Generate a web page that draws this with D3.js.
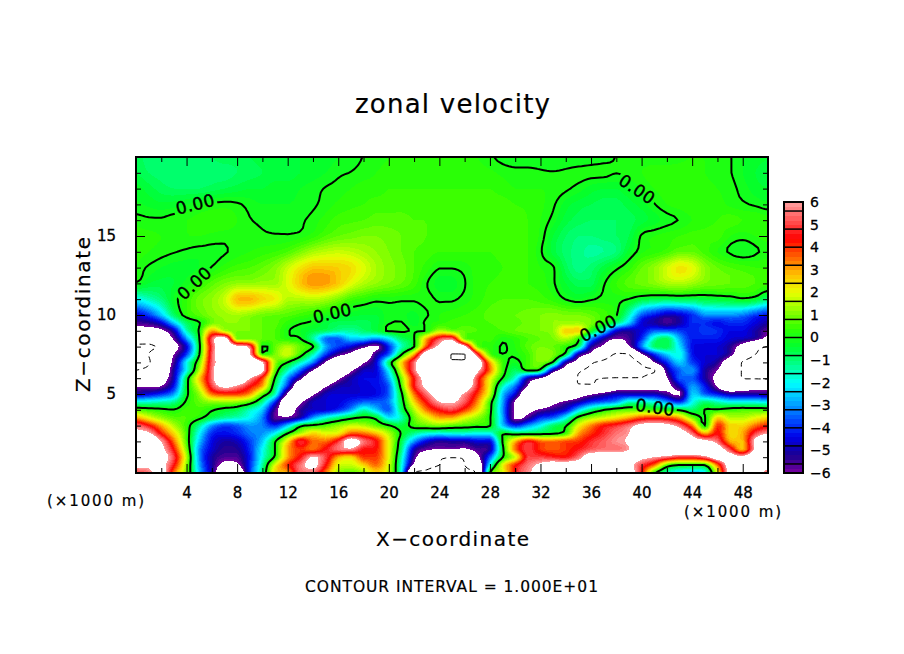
<!DOCTYPE html>
<html><head><meta charset="utf-8">
<script src="https://cdn.jsdelivr.net/npm/d3@7"></script>
<style>html,body{margin:0;background:#fff}svg{display:block}text{font-family:"DejaVu Sans",sans-serif;fill:#000}</style>
</head><body><svg id="c" width="904" height="654"></svg>
<script>
// Values: one list per height z (km), x = 0..50 km
const z20=[-.7,-.9,-1,-1,-1,-.9,-.8,-.7,-.7,-.6,-.5,-.5,-.4,-.4,-.3,-.3,-.2,-.1,.01,.1,.2,.3,.3,.3,.3,.3,.3,.2,.05,-.1,-.2,-.2,-.2,-.2,-.2,-.2,-.15,-.1,.01,.1,.1,.1,.1,.15,.2,.2,.1,.02,-.2,-.3,-.4];
const z19=[-.6,-.8,-.9,-.95,-.95,-.95,-.9,-.9,-.8,-.7,-.6,-.5,-.5,-.4,-.3,-.2,-.05,.01,.1,.2,.3,.3,.3,.3,.3,.3,.3,.3,.25,.15,.1,.1,.05,.02,.05,.1,.1,.1,.01,.1,.2,.3,.3,.3,.3,.2,.1,.02,-.2,-.4,-.5];
const z18=[-.3,-.5,-.7,-.8,-.8,-.8,-.7,-.6,-.5,-.4,-.4,-.3,-.3,-.2,-.1,.02,.1,.2,.3,.3,.4,.4,.4,.4,.4,.4,.4,.4,.4,.3,.2,.2,.2,.15,.05,-.1,-.3,-.4,-.4,-.2,.01,.2,.3,.4,.4,.3,.2,.1,-.1,-.3,-.4];
const z17=[-.15,-.25,-.35,-.3,-.2,-.05,.05,.1,.05,-.1,-.2,-.2,-.2,-.15,-.05,.1,.25,.35,.4,.5,.5,.5,.5,.5,.5,.5,.5,.5,.5,.5,.4,.35,.25,.05,-.3,-.5,-.6,-.7,-.7,-.5,-.3,-.02,.2,.3,.4,.4,.3,.15,.05,-.05,-.15];
const z16=[.1,.05,.05,.15,.2,.3,.35,.35,.2,.02,-.05,-.1,-.1,-.05,.1,.3,.5,.55,.6,.7,.7,.7,.6,.6,.6,.6,.6,.6,.6,.6,.5,.4,.2,-.1,-.5,-.7,-.8,-.8,-.8,-.7,-.5,-.3,-.1,.02,.2,.3,.4,.5,.4,.4,.3];
const z15=[.3,.25,.2,.2,.2,.2,.15,.1,.1,.1,.05,.03,.03,.1,.3,.6,.8,.9,1,1,.9,.8,.7,.6,.5,.5,.5,.5,.5,.5,.5,.4,.15,-.4,-.8,-1,-1,-.9,-.8,-.6,.05,.2,.3,.4,.5,.5,.5,.2,.1,.2,.3];
const z14=[.3,.2,.1,.02,-.05,-.1,-.1,-.03,.1,.2,.3,.4,.6,1,1.4,1.6,1.7,1.6,1.4,1.2,1,.8,.6,.5,.4,.4,.4,.4,.4,.5,.5,.4,.05,-.5,-.9,-1.1,-1.3,-1.2,-1,-.3,.15,.3,.5,.8,.8,.5,.2,-.05,-.2,-.05,.1];
const z13=[.15,-.05,-.2,-.3,-.3,-.2,.02,.3,.5,.6,.8,1.1,1.7,2.3,2.7,2.7,2.6,2.4,1.9,1.4,1.1,.9,.6,.3,.02,.02,.1,.3,.3,.4,.5,.4,.2,.05,-.7,-1.1,-.9,-.5,-.1,.3,.8,1.2,1.8,2.3,2,1.2,.8,.6,.5,.4,.4];
const z12=[-.05,-.4,-.5,-.4,-.1,.3,.7,1,1.2,1.2,1.3,1.3,1.9,2.7,3.2,3.1,2.7,2,1.5,1.2,1,.8,.5,.02,-.3,-.3,-.02,.3,.4,.5,.5,.4,.3,.05,-.4,-.7,-.7,-.05,.4,.7,.9,1.1,1.4,1.5,1.3,1,.9,.8,.7,.6,.5];
const z11=[-2,-1.5,-1,-.2,.4,.9,1.2,1.7,2.8,2.9,2.5,2.2,1.5,1.5,1.6,1.4,1,.5,.3,.1,.1,.05,.05,.1,-.05,-.05,.1,.3,.5,.6,.6,.6,.5,.3,-.02,-.2,-.05,.1,.1,-.02,-.4,-.6,-.7,-.6,-.6,-.5,-.4,-.3,-.1,-.3,-1];
const z10=[-4.5,-3.8,-2.5,-.8,.3,.7,1.1,1.3,1.4,1.2,.9,.8,.7,.5,.3,.03,-.15,-.3,-.4,-.4,-.1,-.15,-.25,-.03,.2,.3,.4,.5,.7,.8,.8,.9,1,1.1,1,1,.8,.5,.05,-1.5,-3.5,-4.2,-4.8,-4.6,-4,-3,-3,-3,-3.2,-3.8,-4.2];
const z095=[-5.5,-5.3,-4.5,-2.5,-.8,-.05,.9,1.2,1.2,1,.8,.7,.3,.05,-.1,-.5,-.7,-.7,-.7,-.5,-.05,.03,-.3,.1,.3,.5,.5,.5,.6,.7,.7,.9,1,1.2,1.3,1.3,1,.2,-1,-2.5,-4.5,-5,-5.5,-5,-4,-4,-4.3,-4,-4,-4.5,-5];
const z09=[-6.8,-6.8,-6.3,-4.8,-1.5,.1,3,1.5,1,1,.8,.6,.05,-.2,-.5,-.8,-1.2,-1.3,-.9,-.5,.1,.1,-.05,.1,1.5,1,.8,.6,.5,.6,.8,.9,1,1.2,2.6,2.6,.02,-2,-4.5,-5,-4.5,-3.5,-3.5,-3.8,-4.2,-3.8,-4,-4.4,-4.4,-5,-5.8];
const z085=[-9,-9,-7.5,-5.8,-3,-.05,5.3,7,.9,.9,.8,.6,.2,.02,-1.3,-3.3,-3.5,-2.5,-2.5,-3,-2.2,-.8,-.02,3,5,5.5,.8,.5,.5,.1,.3,.6,.8,1,1.5,.3,-3,-5,-6,-5.5,-4,-1.5,-.7,-2.8,-4.2,-4.2,-4.2,-4.6,-4.8,-5.3,-6.5];
const z08=[-10.3,-10.3,-9.5,-6.8,-4.5,-.3,5,7.5,6.5,5.5,-.01,.8,1.5,.8,.05,-2.8,-3.8,-4.5,-5.6,-6.3,-4,-1.5,-.05,4,6.5,8,6.5,1,.3,-.03,.2,.7,1,.8,.3,-.8,-5,-6.3,-8,-6.2,-3.2,-.9,-.6,-2.3,-4.3,-4.5,-4.6,-5.2,-6.8,-9,-10.1];
const z075=[-10.6,-10,-8,-6,-3.8,-.05,5.2,8,8,6.3,.5,1,1.8,.4,-1.5,-3.8,-5.5,-6.4,-7.5,-5.2,-3.5,-.05,3,7.5,8.5,10.1,10.1,5,.7,.02,.1,.5,1.2,1,-.5,-5,-6.5,-8.5,-10.3,-10,-6.3,-4,-2.5,-1.8,-4.2,-4.6,-4.6,-5.5,-8,-10,-10.8];
const z07=[-10.5,-10.2,-8,-5.5,-2,.8,5.3,7,9,8.5,6.2,1.3,-.02,-1.5,-3.2,-6.1,-8,-8,-6.2,-4.5,-.8,2.5,5.5,8.5,9.5,9.8,9.7,7.5,3,.5,-.2,.5,1,-.2,-5,-6.8,-9.6,-10.5,-11,-11,-9.5,-6,-4,-2.5,-3.8,-4.6,-5.2,-7.5,-10.2,-11,-11];
const z065=[-10,-9.5,-8,-5,-2,1.5,5.5,8.5,9,8.5,6.5,.8,-1.5,-3.5,-6,-8,-8,-6.3,-4.8,-4.5,-2,2,5.5,8,9,9.5,9,6.5,3.5,.5,-.8,.1,-.4,-5,-7,-9.6,-10.5,-11,-11,-11,-10.5,-10.2,-5.2,-3.5,-3,-5,-6,-8,-10.2,-11,-11];
const z06=[-9,-8.5,-7,-4.8,-.5,2.6,5.5,8.5,8.5,6.1,4,-.1,-3,-5.5,-8,-8,-6.3,-5,-4.4,-4.4,-2.8,1,4.5,7,8.5,9,8.5,5,2.2,-.05,-1.8,-4.8,-6,-8,-8.5,-10.1,-10.1,-10,-9.9,-9.9,-9.9,-8,-6.1,-3.5,-3.5,-5,-6.5,-8,-10,-10.2,-10.3];
const z055=[-6.2,-6.2,-6,-4.2,-.3,2,5,6.5,5.8,4.5,3,-.8,-4,-8,-8,-6.2,-5,-4.8,-4.5,-4.3,-3.5,.5,4.5,6.5,8,8.5,7.5,4.8,1.9,-1.5,-3.3,-6.1,-8.5,-9,-9.5,-9.7,-9.7,-9,-7.5,-7,-7,-7,-6.6,-4.8,-3,-4.2,-6.2,-8,-7.5,-7,-7];
const z05=[-4.8,-4.5,-4,-3,-.2,1.2,3.5,4,4,3.2,.8,-1.5,-6.2,-8,-6.3,-4.8,-4.6,-4.6,-4.6,-4.4,-3.5,-.2,3.5,5.5,7,7,5.8,4,1.6,-2.5,-4.5,-8,-9,-9,-8.5,-7,-6.2,-5.5,-4.8,-4.8,-4.8,-4.8,-5.5,-6.2,-2.5,-3.5,-4.2,-5,-5,-5,-5.2];
const z045=[-1.8,-1.7,-1.5,-1.2,.15,.8,1.2,1.3,1.2,.6,-1.2,-4,-8,-6.3,-4.8,-4.6,-4.5,-4,-3.5,-3.5,-3.2,-.5,2.5,4.5,6,6.2,5.2,3.3,.5,-2.8,-6.2,-8,-7.8,-6.6,-5.7,-5,-4,-3.5,-3,-1.5,-1.5,-2,-3,-4,-2,-1,-1.5,-2,-2,-2,-2.2];
const z04=[.6,.4,.2,.05,.5,.5,.1,-.3,-.6,-1.5,-2.5,-5.5,-7,-5.3,-4.7,-4.6,-4,-3,-1.5,-2.5,-3.5,-.8,1.5,3.5,4.5,5,4,2.5,.3,-3,-6.3,-6.5,-5.8,-5.2,-4.5,-2.5,-1,-.05,.5,.7,.7,.4,.05,-.2,-.8,.02,.1,.4,.5,.5,.5];
const z035=[3,2,1.2,.7,.6,.2,-.6,-1.2,-1.5,-2,-3.2,-5.8,-5.8,-4.8,-3,-1.8,-1,-.3,.1,-.3,-2.2,-1.5,.8,2,3,3,2,1.2,.1,-2.8,-6.3,-5.5,-4,-3.5,-2,.3,1.3,1.8,2.3,3,3.8,4,3.8,3,1,-.05,2.5,1.5,1.5,2,2.5];
const z03=[5.5,4.5,3,1.5,.4,-1.2,-3,-3.8,-3.5,-3,-3.2,-4,-2.5,-.3,.2,.6,1.2,1.7,1.5,.8,.1,-.5,.4,.8,1,.7,.5,.3,.05,-2.5,-4,-3,-2,-.8,-.1,2,3.3,4.3,4.8,5.5,6.5,6.7,6.5,5.5,3.5,.02,4,2.5,2.5,3.5,4.2];
const z025=[6.5,6.3,4.3,2.5,.5,-2,-4,-4.3,-4,-3.3,-3,-2,.05,1.5,2.5,2,2.2,3.7,3.5,2.8,1.5,-.1,-1.2,-1.8,-2,-1.8,-1.8,-2,-2,-.1,-.5,-.4,-.3,-.1,.5,3,4,4.8,5.5,6,7.5,8,8,7,5.5,3,4.5,2.5,3,5,6];
const z02=[8,8,6,3.5,.6,-2.5,-4.4,-5,-4.8,-3.8,-2.5,-.1,2.4,4.8,3.5,3.5,4.8,7,5.5,4.5,2,-.6,-3,-4.5,-5.2,-5,-5,-4.5,-4.5,.05,2.8,4.5,3.6,3.5,3.8,4,4.8,5.3,5.8,6.2,7.5,8,8.5,8,7,6.5,5.5,3,2.8,6.5,8];
const z015=[8,8,6.5,4.3,1,-3,-4.6,-5.3,-5.2,-4,-2,.02,3,4,3.5,4.5,5.5,5.8,4.5,4.3,2,-1,-4.8,-5.8,-6,-6,-6.2,-5.5,-5,-.3,3.5,5,4,3.7,4,4.6,5.2,5.5,5.5,6,8,8,8,8,8,7.5,7,5,2.8,6.3,8];
const z01=[8,8,7,5,1.5,-3,-5,-5.6,-5.6,-4.2,-1.8,.2,3,4.5,6.2,5,3,2.5,4,4,2,-1.5,-5.5,-7.5,-9.5,-9.9,-9.5,-6.5,-3.5,-.05,1.8,5,5,4.7,4.5,5.5,7,7,7,7,6.5,6,5.5,4.8,4.8,5.5,7,7,6.5,8,8];
const z005=[6.5,6.5,6.5,4.5,1.2,-2.8,-5,-6.5,-6.3,-4,-1.3,2,4,5.5,6.5,4.5,2,1.7,2.5,3.5,1.8,-1.8,-6.5,-9,-10,-10.5,-10,-8,-2,2,4.2,5.5,6.3,7,7,7,7,7,7,6.5,5,3.5,.7,-.02,-.02,.02,3.5,7,8,8,7];
const z00=[5,5.5,7,3.5,1,-2.5,-5,-8,-8,-4,-1,2.5,3,5.5,5.5,3.5,1.3,.8,1.3,2.5,1.5,-2,-9.8,-10.5,-11,-11,-10.3,-9.5,.02,1.8,4.5,5.8,6.5,7,7,7,7,7,7,7,4.5,.3,-1.5,-2.2,-2.5,-2,2,7,8,8,5];
const rows=[z00,z005,z01,z015,z02,z025,z03,z035,z04,z045,z05,z055,z06,z065,z07,z075,z08,z085,z09,z095,z10,z11,z12,z13,z14,z15,z16,z17,z18,z19,z20];

const xTicksMajor=[4,8,12,16,20,24,28,32,36,40,44,48];
const xTicksMinor=[2,6,10,14,18,22,26,30,34,38,42,46,50];
const zTicksMajor=[5,10,15];
const zTicksMinor=[1,2,3,4,6,7,8,9,11,12,13,14,16,17,18,19];
const barTicks=[-6,-5,-4,-3,-2,-1,0,1,2,3,4,5,6];
const barLines=[-5.6,-4.8,-4,-3.2,-2.4,-1.6,-.8,0,.8,1.6,2.4,3.2,4,4.8,5.6];
const colorVals=[-6,-5.2,-4.4,-3.6,-2.8,-2,-1.2,-.4,.4,1.2,2,2.8,3.6,4.4,5.2,6];
const colorHex=["#7a00a0","#1a0090","#0000e8","#0050ff","#00b0ff","#00ffff","#00ff90","#00ff30","#30ff00","#90ff00","#e8ff00","#ffc000","#ff6000","#ff0000","#ff5555","#ffa0a0"];
const labelText="0.00";
const labelSpots=[[195,204,-14],[194,283,-43],[332,313,-13],[637,189,34],[598,328,-27],[655,407,8]];

const W=136,E=768,T=157,B=473;
const x=d3.scaleLinear().domain([0,50]).range([W,E]);
const z=d3.scaleLinear().domain([0,20]).range([B,T]);
const rowToZ=d3.scaleLinear().domain([0,20,30]).range([0,10,20]);
const color=d3.scaleLinear().domain(colorVals).range(colorHex);
const svg=d3.select("#c");

// resample the read values on a finer mesh, without overshoot, so contours are round
const K=4,nr=rows.length-1,nx=50*K+1,nz=nr*K+1;
function cub(a,b,c,d,t){
  const v=b+.5*t*(c-a+t*(2*a-5*b+4*c-d+t*(3*(b-c)+d-a)));
  return Math.max(Math.min(b,c),Math.min(Math.max(b,c),v));
}
const vals=new Float64Array(nx*nz);
for(let j=0;j<nz;j++)for(let i=0;i<nx;i++){
  const fx=i/K,fz=j/K,ix=Math.min(49,Math.floor(fx)),iz=Math.min(nr-1,Math.floor(fz));
  const col=[];
  for(let m=-1;m<=2;m++){
    const r=rows[Math.max(0,Math.min(nr,iz+m))];
    col.push(cub(r[Math.max(0,ix-1)],r[ix],r[ix+1],r[Math.min(50,ix+2)],fx-ix));
  }
  vals[j*nx+i]=cub(col[0],col[1],col[2],col[3],fz-iz);
}
const proj=d3.geoTransform({point(px,py){this.stream.point(x((px-.5)/K),z(rowToZ((py-.5)/K)));}});
const path=d3.geoPath(proj);
const contour=t=>d3.contours().size([nx,nz]).thresholds([t])(vals)[0];

const defs=svg.append("defs");
defs.append("clipPath").attr("id","plot").append("rect").attr("x",W).attr("y",T).attr("width",E-W).attr("height",B-T);
const mask=defs.append("mask").attr("id","gaps").attr("maskUnits","userSpaceOnUse").attr("x",0).attr("y",0).attr("width",904).attr("height",654);
mask.append("rect").attr("width",904).attr("height",654).attr("fill","#fff");
mask.selectAll("rect.g").data(labelSpots).join("rect").attr("class","g").attr("x",-22).attr("y",-10).attr("width",44).attr("height",20).attr("fill","#000")
  .attr("transform",d=>`translate(${d[0]},${d[1]}) rotate(${d[2]})`);

const plot=svg.append("g").attr("clip-path","url(#plot)");
plot.append("rect").attr("x",W).attr("y",T).attr("width",E-W).attr("height",B-T).attr("fill","#fff");
const bands=d3.range(0,60).map(i=>-6+i*.2);
plot.append("g").attr("shape-rendering","crispEdges").selectAll("path").data(bands).join("path")
  .attr("d",t=>path(contour(t))).attr("fill",t=>color(t+.1));
plot.append("path").attr("d",path(contour(6))).attr("fill","#fff").attr("shape-rendering","crispEdges");
plot.append("path").attr("d",path(contour(10))).attr("fill","none").attr("stroke","#000").attr("stroke-width",1);
plot.append("path").attr("d",path(contour(-10))).attr("fill","none").attr("stroke","#000").attr("stroke-width",1).attr("stroke-dasharray","6 4");
plot.append("g").attr("mask","url(#gaps)").append("path").attr("d",path(contour(0))).attr("fill","none").attr("stroke","#000").attr("stroke-width",2);

svg.append("g").selectAll("text").data(labelSpots).join("text").text(labelText)
  .attr("transform",d=>`translate(${d[0]},${d[1]}) rotate(${d[2]})`).attr("text-anchor","middle").attr("dy","0.37em")
  .attr("font-size",17).attr("textLength",39).attr("stroke","#000").attr("stroke-width",.4);

function ax(gen,tx,ty,vals,size,fmt,pad){
  const g=svg.append("g").attr("transform",`translate(${tx},${ty})`)
    .call(gen.tickValues(vals).tickSize(size).tickPadding(pad||0).tickFormat(fmt||""));
  g.select(".domain").remove();
  g.selectAll("line").attr("stroke","#000").attr("stroke-width",1);
  g.attr("font-family",null).attr("font-size",null);
  g.selectAll("text").attr("font-size",15).attr("font-family",null).attr("stroke","#000").attr("stroke-width",.3);
  return g;
}
const f=d=>String(d);
ax(d3.axisBottom(x),0,B,xTicksMajor,-9,f,14);
ax(d3.axisBottom(x),0,B,xTicksMinor,-5);
ax(d3.axisTop(x),0,T,xTicksMajor,-9);
ax(d3.axisTop(x),0,T,xTicksMinor,-5);
ax(d3.axisLeft(z),W,0,zTicksMajor,-9,f,20);
ax(d3.axisLeft(z),W,0,zTicksMinor,-5);
ax(d3.axisRight(z),E,0,zTicksMajor,-9);
ax(d3.axisRight(z),E,0,zTicksMinor,-5);
svg.append("rect").attr("x",W).attr("y",T).attr("width",E-W).attr("height",B-T).attr("fill","none").attr("stroke","#000").attr("stroke-width",2);

// colour bar
const bx0=784,bx1=803;
const by=d3.scaleLinear().domain([-6,6]).range([473,202]);
const bar=svg.append("g");
bar.selectAll("rect").data(bands).join("rect").attr("x",bx0).attr("width",bx1-bx0)
  .attr("y",t=>by(t+.2)).attr("height",t=>by(t)-by(t+.2)+.5).attr("fill",t=>color(t+.1)).attr("shape-rendering","crispEdges");
bar.selectAll("line").data(barLines).join("line").attr("x1",bx0).attr("x2",bx1).attr("y1",by).attr("y2",by).attr("stroke","#000").attr("stroke-width",1.5);
bar.append("rect").attr("x",bx0).attr("y",202).attr("width",bx1-bx0).attr("height",271).attr("fill","none").attr("stroke","#000").attr("stroke-width",2);
svg.append("g").attr("transform",`translate(${bx1},0)`).call(d3.axisRight(by).tickValues(barTicks).tickSize(0).tickPadding(7).tickFormat(d=>d<0?"\u2212"+(-d):d))
  .call(g=>g.select(".domain").remove()).call(g=>g.attr("font-family",null).attr("font-size",null).selectAll("text").attr("font-size",14).attr("stroke","#000").attr("stroke-width",.3));

const T1=(s,x0,y,len,size)=>svg.append("text").text(s).attr("x",x0).attr("y",y).attr("font-size",size).attr("textLength",len).attr("lengthAdjust","spacing").attr("stroke","#000").attr("stroke-width",.2);
T1("zonal velocity",355,113,195,26);
T1("X\u2212coordinate",376,546,153,20);
T1("CONTOUR INTERVAL = 1.000E+01",305,592,293,15.5);
T1("(\u00d71000 m)",47,506,97,15);
T1("(\u00d71000 m)",684,517,97,15);
svg.append("text").text("Z\u2212coordinate").attr("transform","translate(90,392) rotate(-90)").attr("font-size",20).attr("textLength",155).attr("lengthAdjust","spacing").attr("stroke","#000").attr("stroke-width",.2);
</script></body></html>
